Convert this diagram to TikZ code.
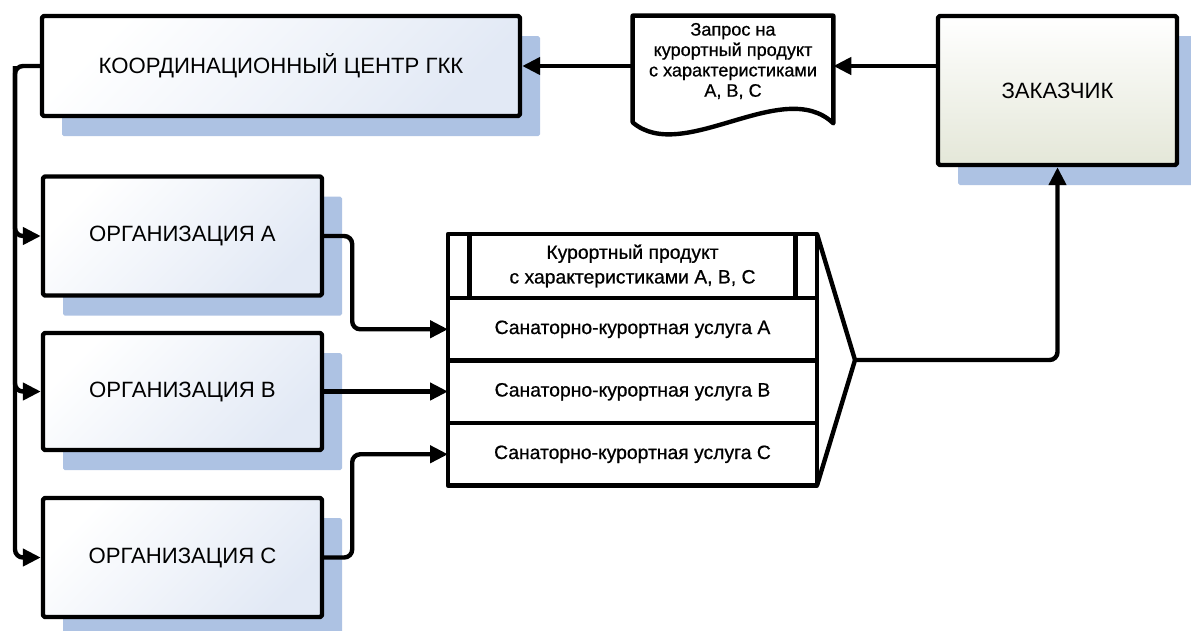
\documentclass[tikz,border=0pt]{standalone}
\usepackage{fontspec}
\setmainfont{Liberation Sans}
\newfontfamily\heavyfont[FakeBold=0.7]{Liberation Sans}
\usetikzlibrary{positioning,arrows.meta,shadows}
\definecolor{shadowblue}{RGB}{173,194,227}
\definecolor{orgblue}{RGB}{226,233,245}
\definecolor{clientgray}{RGB}{228,231,216}
\begin{document}
\begin{tikzpicture}[
    boxline/.style={line width=2.5pt,line join=round},
    orgbox/.style={boxline,draw,rounded corners=1pt,top color=white,bottom color=orgblue,shading angle=45,
        drop shadow={shadow xshift=0.4cm,shadow yshift=-0.4cm,fill=shadowblue,opacity=1},
        font=\fontsize{12.6}{15}\selectfont,inner sep=0pt},
    cell/.style={boxline,draw,fill=white,outer sep=0pt,minimum width=7.38cm,minimum height=1.25cm,inner sep=0pt,
        align=center,font=\heavyfont\fontsize{11}{14}\selectfont},
    conn/.style={line width=2.5pt,rounded corners=0.16cm,-{Triangle[length=0.36cm,width=0.34cm]}}
  ]
    \useasboundingbox (0,0) rectangle (23.82,-12.6);
    \node[orgbox,minimum width=9.56cm,minimum height=2cm] (coord) at (5.62,-1.32) {КООРДИНАЦИОННЫЙ ЦЕНТР ГКК};
    \node[orgbox,minimum width=5.58cm,minimum height=2.38cm] (orgA) at (3.65,-4.72) {ОРГАНИЗАЦИЯ А};
    \node[orgbox,minimum width=5.58cm,minimum height=2.34cm] (orgB) at (3.65,-7.83) {ОРГАНИЗАЦИЯ В};
    \node[orgbox,minimum width=5.58cm,minimum height=2.38cm] (orgC) at (3.65,-11.15) {ОРГАНИЗАЦИЯ С};
    \node[orgbox,bottom color=clientgray,minimum width=4.78cm,minimum height=2.98cm] (zakaz) at (21.15,-1.81) {ЗАКАЗЧИК};
    \node[minimum width=4cm,minimum height=2cm,inner sep=0pt] (req) at (14.66,-1.32) {};
    \draw[boxline,fill=white] (req.north west) -- (req.north east) -- ([yshift=-0.14cm]req.south east)
        .. controls +(-1,0.96) and +(1,-0.86) .. ([yshift=-0.12cm]req.south west) -- cycle;
    \node[align=center,font=\heavyfont\fontsize{10.3}{11.6}\selectfont] (reqtext) at (14.66,-1.22) {Запрос на\\курортный продукт\\с характеристиками\\А, В, С};
    \node[cell,minimum height=1.28cm] (hdr) at (12.65,-5.32) {Курортный продукт\\с характеристиками А, В, С};
    \node[cell,below=0pt of hdr] (svcA) {Санаторно-курортная услуга А};
    \node[cell,below=0pt of svcA] (svcB) {Санаторно-курортная услуга В};
    \node[cell,below=0pt of svcB] (svcC) {Санаторно-курортная услуга С};
    \draw[boxline] ([xshift=0.43cm]hdr.north west) -- ([xshift=0.43cm]hdr.south west);
    \draw[boxline] ([xshift=-0.43cm]hdr.north east) -- ([xshift=-0.43cm]hdr.south east);
    \coordinate (bus) at (0.3,-1.32);
    \coordinate (join) at (17.1,-7.2);
    \draw[boxline] (hdr.north east) -- (join) -- (svcC.south east);
    \draw[conn] (zakaz.west |- req.east) -- (req.east);
    \draw[conn] (req.west) -- (coord.east);
    \draw[conn] (coord.west) -| (bus |- orgC.west) -- (orgC.west);
    \draw[conn] (bus |- coord.west) |- (orgA.west);
    \draw[conn] (bus |- coord.west) |- (orgB.west);
    \draw[conn] (orgA.east) -- ++(0.56,0) |- (svcA.west);
    \draw[conn] (orgB.east) -- (orgB.east -| svcB.west);
    \draw[conn] (orgC.east) -- ++(0.56,0) |- (svcC.west);
    \draw[conn] (join) -| (zakaz.south);
\end{tikzpicture}
\end{document}
